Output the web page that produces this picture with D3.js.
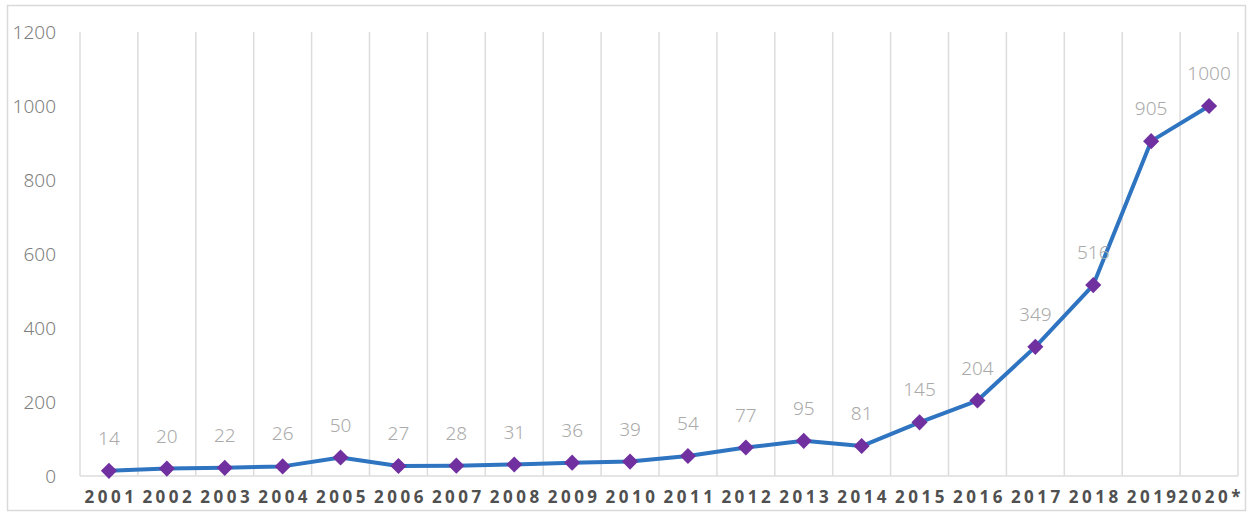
<!DOCTYPE html>
<html><head><meta charset="utf-8">
<script src="https://cdn.jsdelivr.net/npm/d3@7"></script>
<style>body{margin:0;background:#fff;}svg{display:block;}</style>
</head><body>
<svg id="c" width="1253" height="520"></svg>
<script>
const categories = ["2001","2002","2003","2004","2005","2006","2007","2008","2009","2010","2011","2012","2013","2014","2015","2016","2017","2018","2019","2020*"];
const values = [14,20,22,26,50,27,28,31,36,39,54,77,95,81,145,204,349,516,905,1000];
const yTicks = [0,200,400,600,800,1000,1200];

const svg = d3.select("#c");
const W = 1253, H = 520;
const m = {left:80, right:15, top:32, bottom:44};
svg.append("rect").attr("x",7.5).attr("y",5.5).attr("width",1238).attr("height",505)
  .attr("fill","#fff").attr("stroke","#d9d9d9").attr("stroke-width",1.5);

const x = d3.scaleBand().domain(categories).range([m.left, 1238]).padding(0);
const y = d3.scaleLinear().domain([0,1200]).range([H-m.bottom, m.top]);

const g = svg.append("g");
const bounds = categories.map(c => x(c)).concat([x(categories[categories.length-1]) + x.bandwidth()]);
g.selectAll("line.grid").data(bounds).join("line")
  .attr("x1", d=>d).attr("x2", d=>d).attr("y1", y(1200)).attr("y2", y(0))
  .attr("stroke","#dcdcdc").attr("stroke-width",1.5);
g.append("line").attr("x1", m.left).attr("x2", bounds[bounds.length-1]).attr("y1", y(0)).attr("y2", y(0))
  .attr("stroke","#dcdcdc").attr("stroke-width",1.5);

const ya = svg.append("g").attr("transform",`translate(${m.left-24},0)`)
  .call(d3.axisLeft(y).tickValues(yTicks).tickFormat(d3.format("d")).tickSize(0).tickPadding(0));
ya.select(".domain").remove();
ya.selectAll("text").attr("font-family","'Noto Sans', sans-serif").attr("font-weight",300)
  .attr("font-size",19).attr("fill","#7f7f7f");

const xa = svg.append("g").attr("transform",`translate(0,${y(0)})`)
  .call(d3.axisBottom(x).tickSize(0).tickPadding(15));
xa.select(".domain").remove();
xa.selectAll("text").attr("font-family","'Noto Sans', sans-serif").attr("font-weight","bold")
  .attr("font-size",17).attr("fill","#505050").attr("letter-spacing","3.5px")
  .attr("dx","2px").attr("dy","0.71em");

const cx = d => x(d) + x.bandwidth()/2;
const line = d3.line().x((d,i)=>cx(categories[i])).y(d=>y(d));
svg.append("path").datum(values).attr("d", line).attr("fill","none")
  .attr("stroke","#2e74c0").attr("stroke-width",4).attr("stroke-linejoin","round");

svg.selectAll("path.mk").data(values).join("path")
  .attr("d", d3.symbol().type(d3.symbolSquare).size(130))
  .attr("transform",(d,i)=>`translate(${cx(categories[i])},${y(d)}) rotate(45)`)
  .attr("fill","#7030a0");

svg.selectAll("text.lbl").data(values).join("text")
  .attr("x",(d,i)=>cx(categories[i])).attr("y", d=>y(d)-26)
  .attr("text-anchor","middle")
  .attr("font-family","'Noto Sans', sans-serif").attr("font-weight",300)
  .attr("font-size",19).attr("fill","#aaaaaa")
  .text(d=>d);
</script>
</body></html>
